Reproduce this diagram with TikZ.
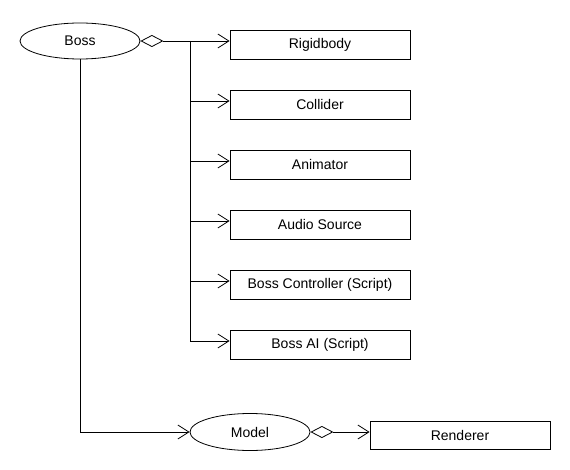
\documentclass[tikz,border=0pt]{standalone}
\usepackage{fontspec}
\setmainfont{Liberation Sans}
\usetikzlibrary{arrows.meta,shapes.geometric}
\begin{document}
\begin{tikzpicture}[x=1pt,y=-1pt,line width=0.8pt,
  every node/.style={font=\fontsize{14}{16}\selectfont},
  comp/.style={draw,rectangle,minimum width=180pt,minimum height=29pt,inner sep=0pt},
  obj/.style={draw,ellipse,minimum width=120pt,minimum height=36pt,inner sep=0pt},
  barb/.style={-{Straight Barb[length=11pt,width=14pt]}},
  aggr/.style={{Diamond[open,length=23pt,width=12pt]}-},
  aggrbarb/.style={{Diamond[open,length=23pt,width=12pt]}-{Straight Barb[length=11pt,width=14pt]}}
]
\useasboundingbox (0,0) rectangle (570,470);
\node[obj] (boss) at (80,41) {Boss};
\node[comp] (rb) at (320,44.5) {Rigidbody};
\node[comp] (col) at (320,104.5) {Collider};
\node[comp] (anim) at (320,164.5) {Animator};
\node[comp] (audio) at (320,224.5) {Audio Source};
\node[comp] (ctrl) at (320,284.5) {Boss Controller (Script)};
\node[comp] (ai) at (320,344.5) {Boss AI (Script)};
\node[obj,minimum height=37pt] (model) at (250,432) {Model};
\node[comp,minimum height=28pt] (rend) at (460,435) {Renderer};
\coordinate (top) at (190,41);
\coordinate (bot) at (190,341);
\coordinate (corner) at (80,432);
\draw[aggr] (boss.east) -- (top);
\draw (top) -- (bot);
\draw[barb] (top) -- ([yshift=3.5pt]rb.west);
\draw[barb] (190,101) -- ([yshift=3.5pt]col.west);
\draw[barb] (190,161) -- ([yshift=3.5pt]anim.west);
\draw[barb] (190,221) -- ([yshift=3.5pt]audio.west);
\draw[barb] (190,281) -- ([yshift=3.5pt]ctrl.west);
\draw[barb] (bot) -- ([yshift=3.5pt]ai.west);
\draw[barb] (boss.south) -- (corner) -- (model.west);
\draw[aggrbarb] (model.east) -- ([yshift=3pt]rend.west);
\end{tikzpicture}
\end{document}
